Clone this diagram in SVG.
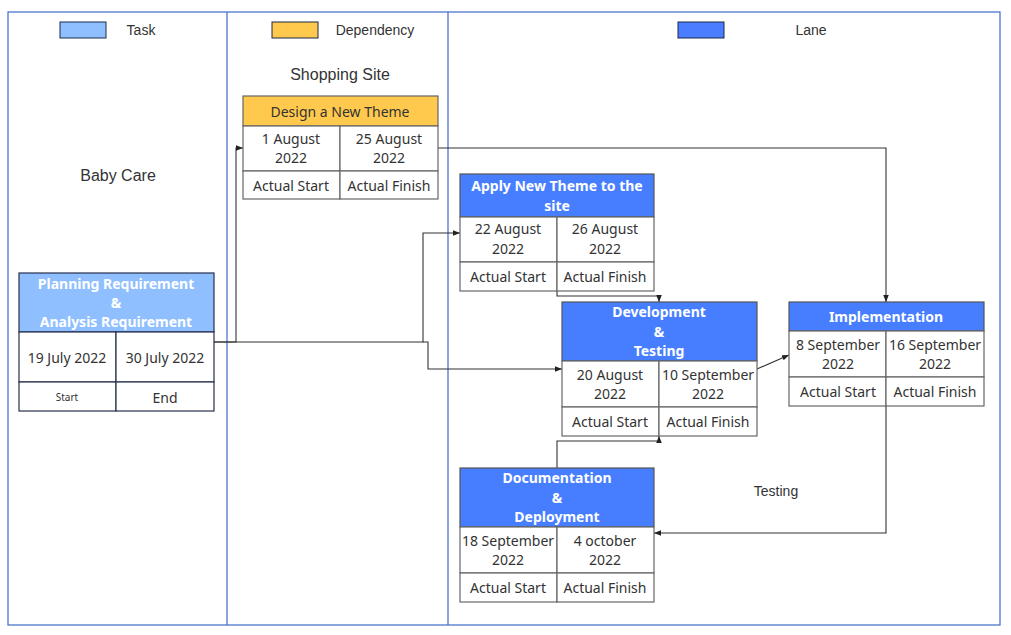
<svg xmlns="http://www.w3.org/2000/svg" width="1011" height="635" viewBox="0 0 1011 635">
<defs>
<style>
.lane{fill:none;stroke:#3f6bc9;stroke-width:1.2}
.lbl{font-family:"Liberation Sans",Arial,sans-serif;fill:#333;text-anchor:middle;dominant-baseline:central}
.t{font-family:"Noto Sans","Open Sans",sans-serif;font-size:14px;fill:#333;text-anchor:middle;dominant-baseline:central}
.h{font-family:"Noto Sans","Open Sans",sans-serif;font-size:14px;font-weight:bold;fill:#fff;text-anchor:middle;dominant-baseline:central}
.cell{fill:#fff;stroke:#666;stroke-width:1.2}
.cellB{fill:#fff;stroke:#26304d;stroke-width:1.2}
.hdrB{fill:#477eff;stroke:#555;stroke-width:1.2}
.con{fill:none;stroke:#333;stroke-width:1.1}
</style>
<marker id="arr" viewBox="0 0 10 10" refX="10" refY="5" markerWidth="7" markerHeight="7" orient="auto" markerUnits="userSpaceOnUse"><path d="M0,1 L10,5 L0,9 z" fill="#222"/></marker>
</defs>
<rect width="1011" height="635" fill="#fff"/>
<g id="lanes">
<rect class="lane" x="8" y="12" width="992" height="613"/>
<line class="lane" x1="227" y1="12" x2="227" y2="625"/>
<line class="lane" x1="448" y1="12" x2="448" y2="625"/>
<text class="lbl" x="118" y="175" font-size="16">Baby Care</text>
<text class="lbl" x="340" y="74" font-size="16">Shopping Site</text>
</g>
<g id="legend">
<rect x="60" y="22" width="46" height="16" fill="#8fbfff" stroke="#1a2a4a" stroke-width="1"/>
<text class="lbl" x="141" y="30" font-size="14">Task</text>
<rect x="272" y="22" width="46" height="16" fill="#ffc94d" stroke="#1a2a4a" stroke-width="1"/>
<text class="lbl" x="375" y="30" font-size="14">Dependency</text>
<rect x="678" y="22" width="46" height="16" fill="#4a7dff" stroke="#1a2a4a" stroke-width="1"/>
<text class="lbl" x="811" y="30" font-size="14">Lane</text>
</g>
<g id="connectors">
<path class="con" d="M214,342 H236 V148 H243" marker-end="url(#arr)"/>
<path class="con" d="M214,342 H423 V233 H460" marker-end="url(#arr)"/>
<path class="con" d="M423,342 H428 V369 H562" marker-end="url(#arr)"/>
<path class="con" d="M438,148 H886 V302" marker-end="url(#arr)"/>
<path class="con" d="M557,291 V296 H659 V302" marker-end="url(#arr)"/>
<path class="con" d="M757,369 L789,355" marker-end="url(#arr)"/>
<path class="con" d="M557,468 V441 H659 V436" marker-end="url(#arr)"/>
<path class="con" d="M886,406 V533 H654" marker-end="url(#arr)"/>
<text class="lbl" x="776" y="491" font-size="14">Testing</text>
</g>
<g id="planning">
<rect x="19" y="273" width="195" height="59" fill="#8fbfff" stroke="#26304d" stroke-width="1.2"/>
<rect class="cellB" x="19" y="332" width="97" height="50"/>
<rect class="cellB" x="116" y="332" width="98" height="50"/>
<rect class="cellB" x="19" y="382" width="97" height="29"/>
<rect class="cellB" x="116" y="382" width="98" height="29"/>
<text class="h" x="116" y="283">Planning Requirement</text>
<text class="h" x="116" y="302">&amp;</text>
<text class="h" x="116" y="321">Analysis Requirement</text>
<text class="t" x="67" y="357">19 July 2022</text>
<text class="t" x="165" y="357">30 July 2022</text>
<text class="t" x="67" y="397" style="font-size:10px">Start</text>
<text class="t" x="165" y="397">End</text>
</g>
<g id="design">
<rect x="243" y="96" width="195" height="30" fill="#ffc94d" stroke="#666" stroke-width="1.2"/>
<rect class="cell" x="243" y="126" width="97" height="45"/>
<rect class="cell" x="340" y="126" width="98" height="45"/>
<rect class="cell" x="243" y="171" width="97" height="28"/>
<rect class="cell" x="340" y="171" width="98" height="28"/>
<text class="t" x="340" y="111">Design a New Theme</text>
<text class="t" x="291" y="138">1 August</text>
<text class="t" x="291" y="157">2022</text>
<text class="t" x="389" y="138">25 August</text>
<text class="t" x="389" y="157">2022</text>
<text class="t" x="291" y="185">Actual Start</text>
<text class="t" x="389" y="185">Actual Finish</text>
</g>
<g id="apply">
<rect class="hdrB" x="460" y="174" width="194" height="43"/>
<rect class="cell" x="460" y="217" width="97" height="45"/>
<rect class="cell" x="557" y="217" width="97" height="45"/>
<rect class="cell" x="460" y="262" width="97" height="29"/>
<rect class="cell" x="557" y="262" width="97" height="29"/>
<text class="h" x="557" y="185">Apply New Theme to the</text>
<text class="h" x="557" y="205">site</text>
<text class="t" x="508" y="228">22 August</text>
<text class="t" x="508" y="248">2022</text>
<text class="t" x="605" y="228">26 August</text>
<text class="t" x="605" y="248">2022</text>
<text class="t" x="508" y="276">Actual Start</text>
<text class="t" x="605" y="276">Actual Finish</text>
</g>
<g id="development">
<rect class="hdrB" x="562" y="302" width="195" height="59"/>
<rect class="cell" x="562" y="361" width="97" height="46"/>
<rect class="cell" x="659" y="361" width="98" height="46"/>
<rect class="cell" x="562" y="407" width="97" height="29"/>
<rect class="cell" x="659" y="407" width="98" height="29"/>
<text class="h" x="659" y="311">Development</text>
<text class="h" x="659" y="331">&amp;</text>
<text class="h" x="659" y="350">Testing</text>
<text class="t" x="610" y="374">20 August</text>
<text class="t" x="610" y="393">2022</text>
<text class="t" x="708" y="374">10 September</text>
<text class="t" x="708" y="393">2022</text>
<text class="t" x="610" y="421">Actual Start</text>
<text class="t" x="708" y="421">Actual Finish</text>
</g>
<g id="implementation">
<rect class="hdrB" x="789" y="302" width="195" height="29"/>
<rect class="cell" x="789" y="331" width="97" height="46"/>
<rect class="cell" x="886" y="331" width="98" height="46"/>
<rect class="cell" x="789" y="377" width="97" height="29"/>
<rect class="cell" x="886" y="377" width="98" height="29"/>
<text class="h" x="886" y="316">Implementation</text>
<text class="t" x="838" y="344">8 September</text>
<text class="t" x="838" y="363">2022</text>
<text class="t" x="935" y="344">16 September</text>
<text class="t" x="935" y="363">2022</text>
<text class="t" x="838" y="391">Actual Start</text>
<text class="t" x="935" y="391">Actual Finish</text>
</g>
<g id="documentation">
<rect class="hdrB" x="460" y="468" width="194" height="59"/>
<rect class="cell" x="460" y="527" width="97" height="46"/>
<rect class="cell" x="557" y="527" width="97" height="46"/>
<rect class="cell" x="460" y="573" width="97" height="29"/>
<rect class="cell" x="557" y="573" width="97" height="29"/>
<text class="h" x="557" y="477">Documentation</text>
<text class="h" x="557" y="497">&amp;</text>
<text class="h" x="557" y="516">Deployment</text>
<text class="t" x="508" y="540">18 September</text>
<text class="t" x="508" y="559">2022</text>
<text class="t" x="605" y="540">4 october</text>
<text class="t" x="605" y="559">2022</text>
<text class="t" x="508" y="587">Actual Start</text>
<text class="t" x="605" y="587">Actual Finish</text>
</g>
</svg>
